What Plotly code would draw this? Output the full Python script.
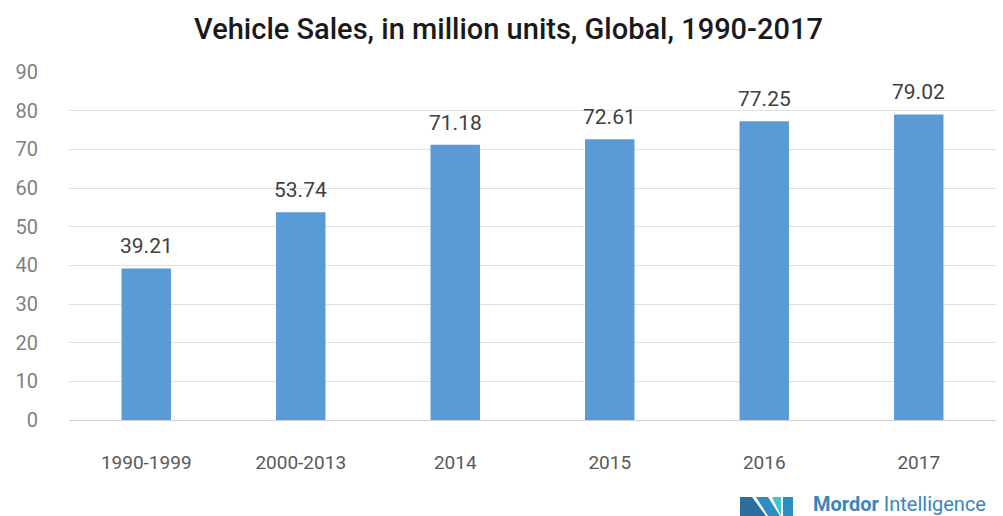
import plotly.graph_objects as go

categories = ["1990-1999", "2000-2013", "2014", "2015", "2016", "2017"]
sales = [39.21, 53.74, 71.18, 72.61, 77.25, 79.02]
labels = ["39.21", "53.74", "71.18", "72.61", "77.25", "79.02"]
y_ticks = [0, 10, 20, 30, 40, 50, 60, 70, 80, 90]

W, H = 1003, 516
l, r, t, b = 69, 7, 72, 96
pw, ph = W - l - r, H - t - b

fig = go.Figure()
fig.add_trace(go.Bar(
    x=categories, y=sales,
    marker=dict(color="#5B9BD5", line=dict(width=0)),
    hoverinfo="x+y",
))

# value labels: category index positions on the category axis
for i, (v, s) in enumerate(zip(sales, labels)):
    fig.add_annotation(x=i, y=v, xref="x", yref="y", text=s, showarrow=False,
                       yanchor="bottom", yshift=8,
                       font=dict(family="Roboto", size=21, color="#404040"))

fig.update_layout(
    width=W, height=H,
    margin=dict(l=l, r=r, t=t, b=b),
    paper_bgcolor="white", plot_bgcolor="white",
    bargap=0.68,
    showlegend=False,
    title=dict(text="Vehicle Sales, in million units, Global, 1990-2017",
               x=0.507, xanchor="center", y=0.945, yanchor="middle",
               font=dict(family="Roboto", size=29, weight=500, color="#1a1a1a")),
    xaxis=dict(type="category", categoryorder="array", categoryarray=categories,
               range=[-0.5, len(categories) - 0.5],
               showgrid=False, showline=True, linecolor="#d0d0d0", linewidth=1,
               ticks="", tickfont=dict(family="Roboto", size=19, color="#595959"),
               ticklabelstandoff=25),
    yaxis=dict(range=[0, 90], tickvals=y_ticks, showgrid=True, gridcolor="#e0e0e0",
               zeroline=False, ticks="", tickfont=dict(family="Roboto", size=20, color="#7f7f7f"),
               ticklabelstandoff=30),
)

# Logo decoration (pixel coordinates converted to paper coordinates)
logo_px = [
    ("M 740 516 L 740 497 L 752 497 L 766 516 Z", "#2a6fa0"),
    ("M 756 497 L 768 497 L 780 516 L 768 516 Z", "#2a8fc0"),
    ("M 772 497 L 781 497 L 781 516 Z", "#3cc8c8"),
    ("M 783 497 L 793 497 L 793 516 L 783 516 Z", "#2a8fc0"),
]
shapes = []
for path, color in logo_px:
    parts = path.split()
    out = []
    j = 0
    while j < len(parts):
        tok = parts[j]
        if tok in ("M", "L"):
            px, py = float(parts[j + 1]), float(parts[j + 2])
            out.append(f"{tok} {(px - l) / pw:.5f} {(H - b - py) / ph:.5f}")
            j += 3
        else:
            out.append(tok)
            j += 1
    shapes.append(dict(type="path", path=" ".join(out), fillcolor=color,
                       line=dict(width=0), xref="paper", yref="paper", layer="above"))
fig.layout.shapes = shapes

fig.add_annotation(
    text="<b>Mordor</b> Intelligence", xref="paper", yref="paper",
    x=(811 - l) / pw, y=(H - b - 504) / ph, xanchor="left", yanchor="middle",
    showarrow=False, font=dict(family="Roboto", size=20, color="#3a86b8"),
)

fig.write_html("out.html")
